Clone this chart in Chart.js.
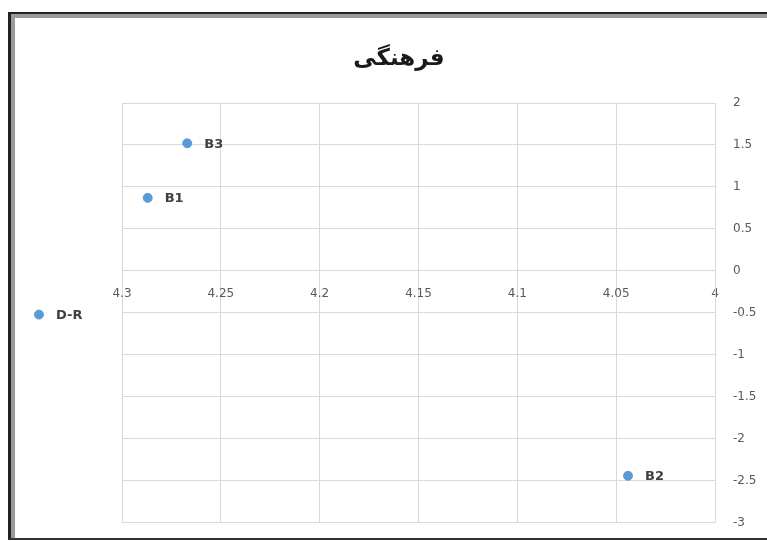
<!DOCTYPE html>
<html>
<head>
<meta charset="utf-8">
<script src="https://cdn.jsdelivr.net/npm/chart.js@4"></script>
<style>
  html, body { margin: 0; padding: 0; background: #fff; overflow: hidden; }
  #frame {
    position: absolute; left: 8px; top: 12px; width: 800px; height: 524px;
    border-left: 3px solid #222; border-top: 2px solid #222; border-bottom: 2px solid #333;
    box-shadow: inset 4px 4px 0 #9a9a9a;
  }
  #wrap { position: absolute; left: 16px; top: 19px; width: 751px; height: 518px; overflow: hidden; }
  #inner { position: relative; width: 751px; height: 529px; }
</style>
</head>
<body>
<div id="frame"></div>
<div id="wrap"><div id="inner"><canvas id="chart"></canvas></div></div>
<script>
var chartTitle = 'فرهنگی';
var pointNames = ['B1', 'B2', 'B3', 'D-R'];
var xValues = [4.287, 4.044, 4.267, 4.342];
var yValues = [0.87, -2.44, 1.52, -0.52];
var xTicks = [4, 4.05, 4.1, 4.15, 4.2, 4.25, 4.3];
var yTicks = [-3, -2.5, -2, -1.5, -1, -0.5, 0, 0.5, 1, 1.5, 2];

var gridColor = '#d9d9d9';
var tickColor = '#595959';

var points = [];
for (var i = 0; i < pointNames.length; i++) {
    points.push({ x: xValues[i], y: yValues[i], name: pointNames[i] });
}

// title, point labels, and points that fall outside the plot area
var labelPlugin = {
    id: 'labelPlugin',
    afterDatasetsDraw: function(chart) {
        var ctx = chart.ctx;
        var area = chart.chartArea;
        var meta = chart.getDatasetMeta(0);
        ctx.save();
        meta.data.forEach(function(el) {
            if (el.x < area.left || el.x > area.right || el.y < area.top || el.y > area.bottom) {
                el.draw(ctx);
            }
        });
        ctx.font = 'bold 13px "DejaVu Sans", sans-serif';
        ctx.fillStyle = '#404040';
        ctx.textAlign = 'left';
        ctx.textBaseline = 'middle';
        meta.data.forEach(function(el, idx) {
            ctx.fillText(points[idx].name, el.x + 17, el.y + 1);
        });
        ctx.font = 'bold 23px "DejaVu Sans", sans-serif';
        ctx.fillStyle = '#1a1a1a';
        ctx.textAlign = 'center';
        ctx.fillText(chartTitle, 383, 40);
        ctx.restore();
    }
};

var ctx = document.getElementById('chart');
var chart = new Chart(ctx, {
    type: 'scatter',
    data: {
        datasets: [{
            data: points,
            backgroundColor: '#5b9bd5',
            borderColor: '#5b9bd5',
            pointRadius: 4.5,
            pointHoverRadius: 4.5,
            clip: false
        }]
    },
    options: {
        responsive: true,
        maintainAspectRatio: false,
        animation: false,
        layout: {
            padding: { left: 106, top: 84, bottom: 5, right: 0 }
        },
        plugins: {
            legend: { display: false },
            tooltip: { enabled: false }
        },
        scales: {
            x: {
                type: 'linear',
                position: { y: 0 },
                reverse: true,
                min: 4,
                max: 4.3,
                afterBuildTicks: function(scale) {
                    scale.ticks = xTicks.map(function(v) { return { value: v }; });
                },
                grid: { color: gridColor, drawTicks: false },
                border: { color: gridColor },
                ticks: {
                    color: tickColor,
                    padding: 16,
                    maxRotation: 0,
                    font: { family: '"DejaVu Sans", sans-serif', size: 12 },
                    callback: function(v) { return String(v); }
                }
            },
            y: {
                type: 'linear',
                position: 'right',
                min: -3,
                max: 2,
                afterBuildTicks: function(scale) {
                    scale.ticks = yTicks.map(function(v) { return { value: v }; });
                },
                afterFit: function(scale) { scale.width = 52; },
                grid: { color: gridColor, drawTicks: false },
                border: { color: gridColor },
                ticks: {
                    color: tickColor,
                    padding: 18,
                    font: { family: '"DejaVu Sans", sans-serif', size: 12 },
                    callback: function(v) { return String(v); }
                }
            }
        }
    },
    plugins: [labelPlugin]
});
</script>
</body>
</html>
